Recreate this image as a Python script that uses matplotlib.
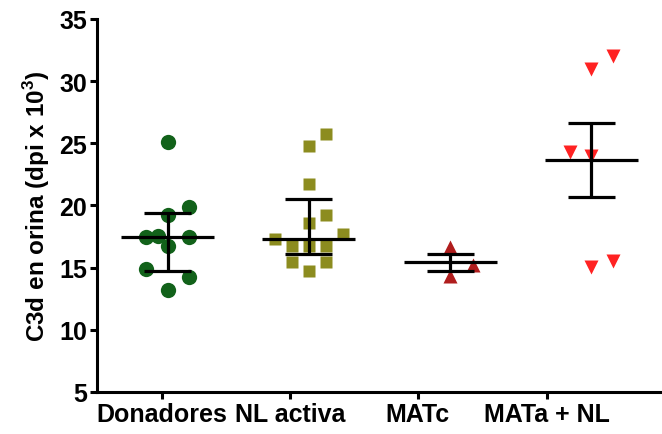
"""
Urinary C3d per patient group: individual values with group summary bars.
"""

import numpy as np
import matplotlib
matplotlib.use("Agg")
import matplotlib.pyplot as plt

plt.rcParams["font.family"] = ["Liberation Sans", "DejaVu Sans"]
plt.rcParams["font.weight"] = "bold"
plt.rcParams["mathtext.fontset"] = "custom"
plt.rcParams["mathtext.bf"] = "Liberation Sans:bold"
plt.rcParams["mathtext.rm"] = "Liberation Sans:bold"

# ---------------------------------------------------------------- data
groups = ["Donadores", "NL activa", "MATc", "MATa + NL"]

donadores = [25.1, 19.9, 19.2, 17.5, 17.55, 17.5, 16.75, 14.9, 14.25, 13.2]
nl_activa = [25.75, 24.8, 21.75, 19.25, 18.6, 17.7, 17.3, 16.75, 16.75,
             16.75, 15.45, 15.45, 14.75]
matc = [16.7, 14.35, 15.25]
mata_nl = [32.0, 31.0, 24.3, 24.0, 15.55, 15.05]

values = [donadores, nl_activa, matc, mata_nl]

# summary shown for each group: median + IQR, or mean +/- SEM
summary = ["median", "median", "mean", "mean"]

# ---------------------------------------------------------------- layout
# horizontal scatter of the points inside each column (in category units)
spread = [
    [0, 0.15, 0, -0.15, -0.07, 0.15, 0, -0.15, 0.15, 0],
    [0.12, 0, 0, 0.12, 0, 0.24, -0.24, -0.12, 0, 0.12, -0.12, 0.12, 0],
    [0, 0, 0.16],
    [0.15, 0, -0.15, 0, 0.15, 0],
]
tick_pos = [-0.04, 0.866, 1.77, 2.686]

markers = ["o", "s", "^", "v"]
msizes = [11, 8.8, 10.5, 10.5]
colors = ["#12621a", "#8c8c1f", "#b01d1d", "#ff2222"]


def group_summary(v, kind):
    v = np.asarray(v, dtype=float)
    if kind == "median":
        mid = np.median(v)
        lo, hi = np.percentile(v, [25, 75], method="weibull")
    else:
        mid = v.mean()
        sem = v.std(ddof=1) / np.sqrt(len(v))
        lo, hi = mid - sem, mid + sem
    return mid, lo, hi


fig = plt.figure(figsize=(6.62, 4.35), dpi=100)
ax = fig.add_axes([0.1465, 0.0966, 0.8535, 0.8575])

lw = 2.3
for i, (v, dx) in enumerate(zip(values, spread)):
    x = i + np.asarray(dx)
    ax.plot(x, v, ls="none", marker=markers[i], ms=msizes[i],
            color=colors[i], mec="none", zorder=2, clip_on=False)

    mid, lo, hi = group_summary(v, summary[i])
    ax.hlines(mid, i - 0.33, i + 0.33, color="black", lw=lw, zorder=3)
    ax.hlines([lo, hi], i - 0.167, i + 0.167, color="black", lw=lw, zorder=3)
    ax.vlines(i, lo, hi, color="black", lw=lw, zorder=3)

ax.set_xlim(-0.5, 3.5)
ax.set_ylim(5, 35)
ax.set_yticks(range(5, 36, 5))
ax.set_xticks(tick_pos)
ax.set_xticklabels(groups)

ax.set_ylabel("C3d en orina (dpi x 10$^{\\mathbf{3}}$)", fontsize=17.5,
              fontweight="bold", labelpad=5)

for side in ("top", "right"):
    ax.spines[side].set_visible(False)
for side in ("left", "bottom"):
    ax.spines[side].set_linewidth(2.2)
ax.tick_params(axis="both", width=2.2, length=5, labelsize=18, pad=2)

fig.savefig("out.png", dpi=100)
